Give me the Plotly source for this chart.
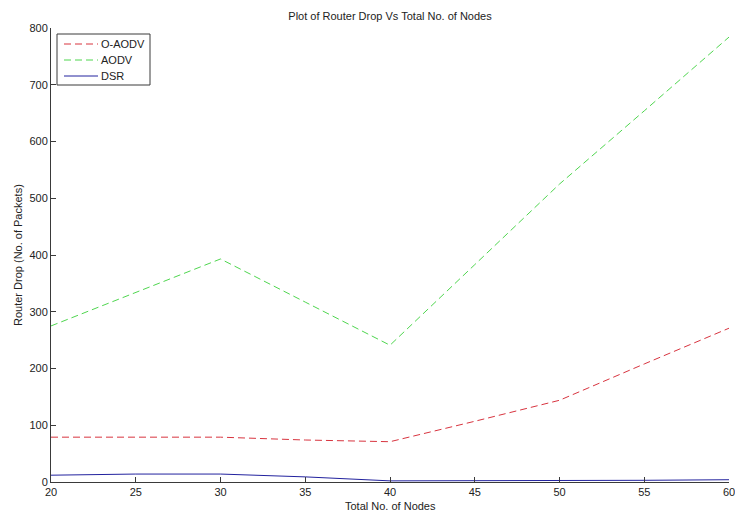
import plotly.graph_objects as go

# Number of nodes in the network
nodes = [20, 25, 30, 35, 40, 45, 50, 55, 60]

# Router drop (number of packets) per protocol
o_aodv = [79, 79, 79, 74, 71, 107, 144, 208, 271]
aodv = [275, 334, 393, 317, 241, 383, 525, 654, 784]
dsr = [12, 14, 14, 9, 2, 2, 2, 3, 4]

x_ticks = [20, 25, 30, 35, 40, 45, 50, 55, 60]
y_ticks = [0, 100, 200, 300, 400, 500, 600, 700, 800]

FONT = "Liberation Sans, Arial, sans-serif"
AXIS_COLOR = "#3a3a3a"
TEXT_COLOR = "#222222"
DASH = "7px,4px"

# Figure and plot-area geometry in pixels
W, H = 735, 513
L, R, T, B = 51, 6, 28, 31
PW, PH = W - L - R, H - T - B


def px(x):
    """Horizontal pixel -> paper coordinate."""
    return (x - L) / PW


def py(y):
    """Vertical pixel (from top) -> paper coordinate."""
    return (H - B - y) / PH


series = [
    ("O-AODV", o_aodv, dict(color="#d8343f", width=1, dash=DASH)),
    ("AODV", aodv, dict(color="#4fd64f", width=1, dash=DASH)),
    ("DSR", dsr, dict(color="#22229e", width=1)),
]

fig = go.Figure()
for name, values, line in series:
    fig.add_trace(go.Scatter(x=nodes, y=values, mode="lines", name=name,
                             line=line, showlegend=False, cliponaxis=False))

# Boxed legend in the upper-left corner of the axes
shapes = [dict(type="rect", xref="paper", yref="paper",
               x0=px(57), x1=px(150), y0=py(85), y1=py(34),
               line=dict(color=AXIS_COLOR, width=1), fillcolor="white",
               layer="above")]
annotations = []
for i, (name, _, line) in enumerate(series):
    yc = py(44 + 16 * i)
    shapes.append(dict(type="line", xref="paper", yref="paper",
                       x0=px(64), x1=px(98), y0=yc, y1=yc,
                       line=dict(color=line["color"], width=1,
                                 dash=line.get("dash", "solid")),
                       layer="above"))
    annotations.append(dict(text=name, xref="paper", yref="paper",
                            x=px(99), y=yc, xanchor="left", yanchor="middle",
                            showarrow=False,
                            font=dict(size=11, family=FONT, color=TEXT_COLOR)))

# Axis titles placed at fixed pixel positions
annotations.append(dict(text="Total No. of Nodes", xref="paper", yref="paper",
                        x=0.5, y=py(506), xanchor="center", yanchor="middle",
                        showarrow=False,
                        font=dict(size=11, family=FONT, color=TEXT_COLOR)))
annotations.append(dict(text="Router Drop (No. of Packets)", xref="paper",
                        yref="paper", x=px(18), y=0.5, xanchor="center",
                        yanchor="middle", textangle=-90, showarrow=False,
                        font=dict(size=11, family=FONT, color=TEXT_COLOR)))

fig.update_layout(
    width=W, height=H,
    margin=dict(l=L, r=R, t=T, b=B, autoexpand=False),
    paper_bgcolor="white", plot_bgcolor="white",
    font=dict(family=FONT, size=11, color=TEXT_COLOR),
    title=dict(text="Plot of Router Drop Vs Total No. of Nodes",
               x=(L + W - R) / 2 / W, xanchor="center",
               y=1 - 16 / H, yanchor="middle",
               font=dict(size=11, family=FONT, color=TEXT_COLOR)),
    showlegend=False,
    shapes=shapes,
    annotations=annotations,
)

fig.update_xaxes(
    range=[20, 60], tickvals=x_ticks, ticktext=[str(v) for v in x_ticks],
    showgrid=False, zeroline=False, showline=True, linecolor=AXIS_COLOR,
    linewidth=1, ticks="inside", ticklen=5, tickcolor=AXIS_COLOR,
    ticklabeloverflow="allow", automargin=False, mirror=False,
)
fig.update_yaxes(
    range=[0, 800], tickvals=y_ticks, ticktext=[str(v) for v in y_ticks],
    showgrid=False, zeroline=False, showline=True, linecolor=AXIS_COLOR,
    linewidth=1, ticks="inside", ticklen=5, tickcolor=AXIS_COLOR,
    automargin=False, mirror=False,
)

fig.write_html("out.html")
